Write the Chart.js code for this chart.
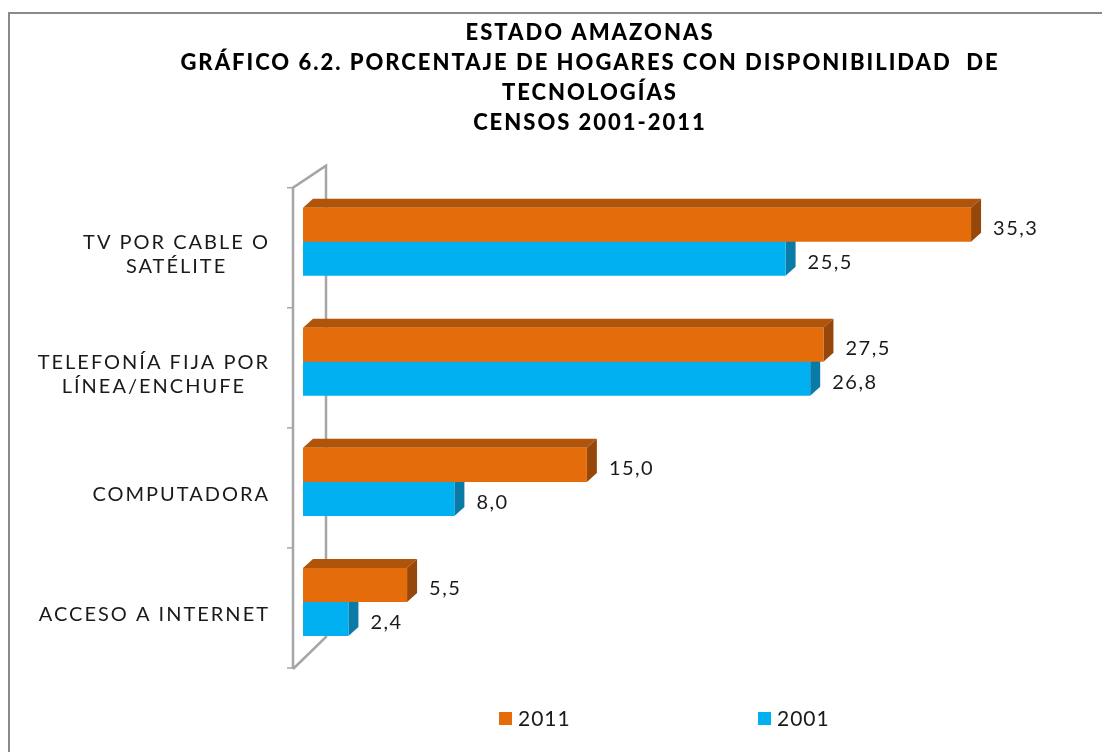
<!DOCTYPE html>
<html lang="es">
<head>
<meta charset="utf-8">
<title>Gráfico 6.2 - Estado Amazonas</title>
<script src="https://cdn.jsdelivr.net/npm/chart.js@4.4.1/dist/chart.umd.min.js"></script>
<style>
    html, body { margin: 0; padding: 0; background: #ffffff; }
    #graficoTecnologias { display: block; }
</style>
</head>
<body>
<canvas id="graficoTecnologias" width="1102" height="752"></canvas>
<script>
// Datos
const tituloLineas = [
    'ESTADO AMAZONAS',
    'GRÁFICO 6.2. PORCENTAJE DE HOGARES CON DISPONIBILIDAD  DE',
    'TECNOLOGÍAS',
    'CENSOS 2001-2011'
];
const categorias = [
    ['TV POR CABLE O', 'SATÉLITE'],
    ['TELEFONÍA FIJA POR', 'LÍNEA/ENCHUFE'],
    ['COMPUTADORA'],
    ['ACCESO A INTERNET']
];
const series = ['2011', '2001'];
const valores2011 = [35.3, 27.5, 15.0, 5.5];
const valores2001 = [25.5, 26.8, 8.0, 2.4];

const colores = {
    '2011': { frente: '#E46C0A', arriba: '#B0540A', lado: '#96470A' },
    '2001': { frente: '#00B0F0', arriba: '#0090C4', lado: '#0A7BA6' }
};
const FUENTE = 'Lato, "Open Sans", sans-serif';
const PROF_X = 10, PROF_Y = 9; // profundidad del efecto 3D

function formatoValor(v) {
    return v.toFixed(1).replace('.', ',');
}

// espaciado de letras para el título (solo mientras se dibuja la caja del título)
const pluginEspaciado = {
    id: 'espaciado',
    beforeDraw(chart) {
        chart.ctx.letterSpacing = '2px';
    },
    beforeDatasetsDraw(chart) {
        chart.ctx.letterSpacing = '0px';
    }
};

// fondo y borde del marco
const pluginFondo = {
    id: 'fondo',
    beforeDraw(chart) {
        const ctx = chart.ctx;
        ctx.save();
        ctx.fillStyle = '#ffffff';
        ctx.fillRect(0, 0, chart.width, chart.height);
        ctx.strokeStyle = '#8a8a8a';
        ctx.lineWidth = 2;
        ctx.beginPath();
        ctx.moveTo(9, chart.height + 5);
        ctx.lineTo(9, 13);
        ctx.lineTo(chart.width + 5, 13);
        ctx.stroke();
        ctx.restore();
    }
};

// pared lateral, caras 3D de las barras
const pluginPared3D = {
    id: 'pared3D',
    beforeDatasetsDraw(chart) {
        const ctx = chart.ctx;
        const area = chart.chartArea;
        const escalaY = chart.scales.y;
        const frenteX = area.left - 10;
        const fondoX = area.left + 23;

        ctx.save();
        ctx.strokeStyle = '#a6a6a6';
        ctx.lineWidth = 2.5;
        ctx.beginPath();
        ctx.moveTo(frenteX, area.bottom + 7);
        ctx.lineTo(frenteX, area.top + 6);
        ctx.lineTo(fondoX, area.top - 16);
        ctx.lineTo(fondoX, area.bottom - 25);
        ctx.lineTo(frenteX, area.bottom + 7);
        ctx.stroke();

        // marcas del eje
        ctx.lineWidth = 1.5;
        for (let i = 0; i <= categorias.length; i++) {
            const y = escalaY.getPixelForValue(i - 0.5) + 6;
            ctx.beginPath();
            ctx.moveTo(frenteX - 6, y);
            ctx.lineTo(frenteX, y);
            ctx.stroke();
        }

        // caras superior y lateral (primero 2001, luego 2011)
        for (let d = chart.data.datasets.length - 1; d >= 0; d--) {
            const meta = chart.getDatasetMeta(d);
            const c = colores[chart.data.datasets[d].label];
            meta.data.forEach(barra => {
                const p = barra.getProps(['x', 'y', 'base', 'height'], true);
                const arriba = p.y - p.height / 2;
                const abajo = p.y + p.height / 2;
                ctx.fillStyle = c.arriba;
                ctx.beginPath();
                ctx.moveTo(p.base, arriba);
                ctx.lineTo(p.base + PROF_X, arriba - PROF_Y);
                ctx.lineTo(p.x + PROF_X, arriba - PROF_Y);
                ctx.lineTo(p.x, arriba);
                ctx.closePath();
                ctx.fill();
                ctx.fillStyle = c.lado;
                ctx.beginPath();
                ctx.moveTo(p.x, arriba);
                ctx.lineTo(p.x + PROF_X, arriba - PROF_Y);
                ctx.lineTo(p.x + PROF_X, abajo - PROF_Y);
                ctx.lineTo(p.x, abajo);
                ctx.closePath();
                ctx.fill();
            });
        }
        ctx.restore();
    }
};

// etiquetas de categoría, valores y leyenda
const pluginTextos = {
    id: 'textos',
    afterDraw(chart) {
        const ctx = chart.ctx;
        const escalaY = chart.scales.y;
        ctx.save();
        ctx.fillStyle = '#1a1a1a';

        // categorías: bloque alineado a la derecha, líneas centradas
        ctx.font = '20px ' + FUENTE;
        ctx.letterSpacing = '2px';
        ctx.textAlign = 'center';
        ctx.textBaseline = 'middle';
        categorias.forEach((lineas, i) => {
            const ancho = Math.max(...lineas.map(t => ctx.measureText(t).width));
            const cx = 270 - ancho / 2;
            const cy = escalaY.getPixelForValue(i) + 13;
            const alto = 24;
            lineas.forEach((t, j) => {
                ctx.fillText(t, cx, cy + (j - (lineas.length - 1) / 2) * alto);
            });
        });

        // valores
        ctx.font = '20px ' + FUENTE;
        ctx.letterSpacing = '1.5px';
        ctx.textAlign = 'left';
        chart.data.datasets.forEach((ds, d) => {
            chart.getDatasetMeta(d).data.forEach((barra, i) => {
                const p = barra.getProps(['x', 'y'], true);
                ctx.fillText(formatoValor(ds.data[i]), p.x + 22, p.y + 4);
            });
        });

        // leyenda
        const posLeyenda = [499, 758];
        const yLeyenda = 718;
        ctx.font = '21px ' + FUENTE;
        ctx.letterSpacing = '1px';
        series.forEach((s, i) => {
            ctx.fillStyle = colores[s].frente;
            ctx.fillRect(posLeyenda[i], yLeyenda - 6, 13, 13);
            ctx.fillStyle = '#1a1a1a';
            ctx.fillText(s, posLeyenda[i] + 19, yLeyenda + 1);
        });
        ctx.restore();
    }
};

function inicializarGrafico() {
    const elementoCanvas = document.getElementById('graficoTecnologias');
    if (!elementoCanvas) return;
    const ctx = elementoCanvas.getContext('2d');

    new Chart(ctx, {
        type: 'bar',
        data: {
            labels: categorias,
            datasets: [
                {
                    label: series[0],
                    data: valores2011,
                    backgroundColor: colores['2011'].frente
                },
                {
                    label: series[1],
                    data: valores2001,
                    backgroundColor: colores['2001'].frente
                }
            ]
        },
        options: {
            indexAxis: 'y',
            responsive: false,
            animation: false,
            categoryPercentage: 0.567,
            barPercentage: 1.0,
            layout: {
                padding: { left: 120, right: 42, top: 18, bottom: 90 }
            },
            scales: {
                x: {
                    display: false,
                    min: 0,
                    max: 40
                },
                y: {
                    grid: { display: false },
                    border: { display: false },
                    ticks: { display: false },
                    afterFit(escala) {
                        escala.width = 183;
                    }
                }
            },
            plugins: {
                legend: { display: false },
                tooltip: { enabled: false },
                title: {
                    display: true,
                    text: tituloLineas,
                    color: '#000000',
                    font: { family: FUENTE, size: 22, weight: 900, lineHeight: 1.36 },
                    padding: { top: 0, bottom: 44 }
                }
            }
        },
        plugins: [pluginEspaciado, pluginFondo, pluginPared3D, pluginTextos]
    });
}

document.addEventListener('DOMContentLoaded', inicializarGrafico);
</script>
</body>
</html>
